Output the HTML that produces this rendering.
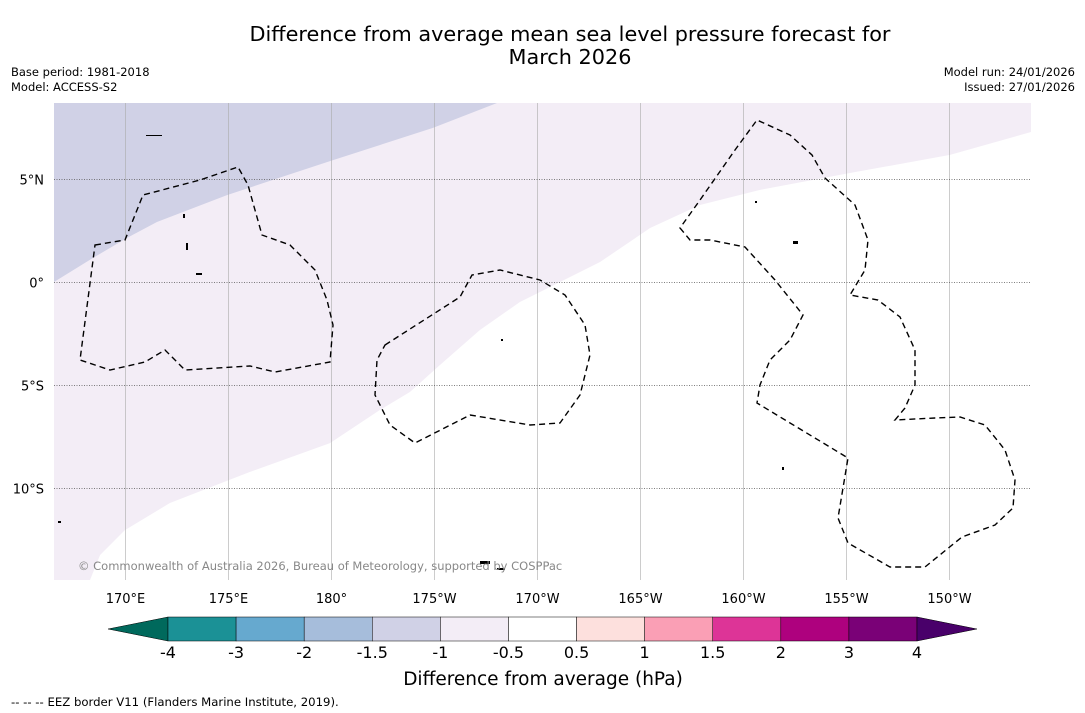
<!DOCTYPE html>
<html><head><meta charset="utf-8"><style>
body{margin:0;background:#fff;font-family:"Liberation Sans","DejaVu Sans",sans-serif}
svg{display:block}
</style></head><body>
<svg width="1085" height="713" viewBox="0 0 1085 713" xmlns="http://www.w3.org/2000/svg" font-family="'DejaVu Sans','Liberation Sans',sans-serif">
<text x="570" y="41" font-size="20.8" text-anchor="middle">Difference from average mean sea level pressure forecast for</text>
<text x="570" y="64" font-size="20.8" text-anchor="middle">March 2026</text>
<text x="11" y="76" font-size="11.5">Base period: 1981-2018</text>
<text x="11" y="91" font-size="11.5">Model: ACCESS-S2</text>
<text x="1075" y="76" font-size="11.5" text-anchor="end">Model run: 24/01/2026</text>
<text x="1075" y="91" font-size="11.5" text-anchor="end">Issued: 27/01/2026</text>
<defs><clipPath id="mapclip"><rect x="54" y="103" width="977" height="477"/></clipPath></defs>
<g id="map" clip-path="url(#mapclip)"></g>
<g id="eez" clip-path="url(#mapclip)" fill="none" stroke="#000" stroke-width="1.4" stroke-dasharray="6,4">
<path d="M95,245 L125,240 L143,195 L200,180 L238,167 L248,185 L262,235 L290,245 L315,270 L327,300 L333,325 L330,362 L275,372 L250,366 L185,370 L165,350 L145,362 L110,370 L80,360 Z"/>
<path d="M385,345 L460,297 L472,275 L500,270 L540,280 L565,295 L585,325 L590,355 L580,395 L560,423 L530,425 L470,415 L415,443 L390,425 L375,395 L377,360 Z"/>
<path d="M680,228 L690,240 L710,240 L745,247 L775,280 L803,315 L790,340 L770,360 L760,385 L757,403 L848,458 L838,518 L848,543 L890,567 L925,567 L962,537 L995,525 L1013,508 L1015,480 L1005,450 L985,425 L960,417 L935,418 L895,420 L905,408 L915,385 L915,350 L900,317 L878,300 L850,295 L865,270 L868,240 L855,205 L825,178 L812,155 L790,135 L757,120 L735,150 L700,200 Z"/>
</g>
<g id="islands" fill="#000">
<rect x="146" y="135" width="16" height="1"/><rect x="183" y="214" width="2" height="4"/><rect x="186" y="243" width="2" height="7"/><rect x="196" y="273" width="6" height="2"/><rect x="755" y="201" width="2" height="2"/><rect x="793" y="241" width="5" height="3"/><rect x="480" y="561" width="10" height="3"/><rect x="497" y="568" width="8" height="2"/><rect x="58" y="521" width="3" height="2"/><rect x="501" y="339" width="2" height="2"/><rect x="782" y="467" width="2" height="3"/>
</g>
<text x="78" y="570" font-size="11.5" fill="#888">© Commonwealth of Australia 2026, Bureau of Meteorology, supported by COSPPac</text>
<g id="axes"></g>
<g id="cbar"></g>
<text x="543" y="685" font-size="18.5" text-anchor="middle">Difference from average (hPa)</text>
<text x="11" y="706" font-size="11.7">--  --  -- EEZ border V11 (Flanders Marine Institute, 2019).</text>
</svg>
<script>
const lonTicks=[170,175,180,185,190,195,200,205,210];
const lonLabels=["170°E","175°E","180°","175°W","170°W","165°W","160°W","155°W","150°W"];
const latTicks=[5,0,-5,-10];
const latLabels=["5°N","0°","5°S","10°S"];
const darkLon=[166.55,168.45,170.1,171.55,174.95,179.95,184.95,188.06];
const darkLat=[0,1.17,2.14,2.91,4.22,5.87,7.48,8.69];
const lightLon=[168.30,168.79,170.0,172.18,176.07,179.95,182.38,183.83,185.29,187.23,189.17,191.12,193.06,195.49,197.91,200.83,205.19,210.05,213.98];
const lightLat=[-14.47,-13.25,-12.04,-10.73,-9.22,-7.82,-6.21,-5.34,-4.03,-2.33,-0.97,0,0.97,2.62,3.74,4.47,5.29,6.17,7.28];
const cbLevels=["-4","-3","-2","-1.5","-1","-0.5","0.5","1","1.5","2","3","4"];
const cbColors=["#1b9196","#66a9cf","#a6bddb","#d0d1e6","#f3edf6","#ffffff","#fde0dd","#fa9fb5","#dd3497","#ae017e","#7a0177"];
const NS="http://www.w3.org/2000/svg";
const X0=54,X1=1031,Y0=103,Y1=580;
function xs(lon){return 125+(lon-170)*20.6;}
function ys(lat){return 282-lat*20.6;}
function mk(t,a,p){const e=document.createElementNS(NS,t);for(const k in a)e.setAttribute(k,a[k]);p.appendChild(e);return e;}
const map=document.getElementById('map');
const ax=document.getElementById('axes');
let d="M"+X0+","+Y0+" L"+X1+","+Y0;
for(let i=lightLon.length-1;i>=0;i--)d+=" L"+xs(lightLon[i])+","+ys(lightLat[i]);
d+=" L"+X0+","+Y1+" Z";
let p1=mk('path',{d:d,fill:'#f3edf6'},map);


let d2="M"+X0+","+Y0;
for(let i=darkLon.length-1;i>=0;i--)d2+=" L"+xs(darkLon[i])+","+ys(darkLat[i]);
d2+=" L"+X0+","+ys(darkLat[0])+" Z";
let p2=mk('path',{d:d2,fill:'#d0d1e6'},map);


lonTicks.forEach((v,i)=>{const x=Math.round(xs(v))+0.5;
 let l=mk('line',{x1:x,x2:x,y1:Y0,y2:Y1,stroke:'#aaa','stroke-width':0.6},map);
 
 
 let t=mk('text',{x:x,y:603,'font-size':13,'text-anchor':'middle'},ax);t.textContent=lonLabels[i];
 
 });
latTicks.forEach((v,i)=>{const y=Math.round(ys(v))+0.5;
 let l=mk('line',{x1:X0,x2:X1,y1:y,y2:y,stroke:'#555','stroke-width':0.7,'stroke-dasharray':'1,1.5'},map);
 
 
 let t=mk('text',{x:44,y:y+5,'font-size':13,'text-anchor':'end'},ax);t.textContent=latLabels[i];
 
 });
const cb=document.getElementById('cbar');
const CX0=168,CX1=917,CY0=617,CY1=641,W=(CX1-CX0)/cbColors.length;
let a1=mk('polygon',{points:`108,629 ${CX0},${CY0} ${CX0},${CY1}`,fill:'#00695c',stroke:'#000','stroke-width':0.5},cb);


cbColors.forEach((c,i)=>{let r=mk('rect',{x:CX0+i*W,y:CY0,width:W,height:CY1-CY0,fill:c,stroke:'#000','stroke-width':0.5},cb);
 
 });
let a2=mk('polygon',{points:`977,629 ${CX1},${CY0} ${CX1},${CY1}`,fill:'#49006a',stroke:'#000','stroke-width':0.5},cb);


cbLevels.forEach((v,i)=>{let t=mk('text',{x:CX0+i*W,y:658,'font-size':16,'text-anchor':'middle'},cb);t.textContent=v;
 
 });
</script>
</body></html>
